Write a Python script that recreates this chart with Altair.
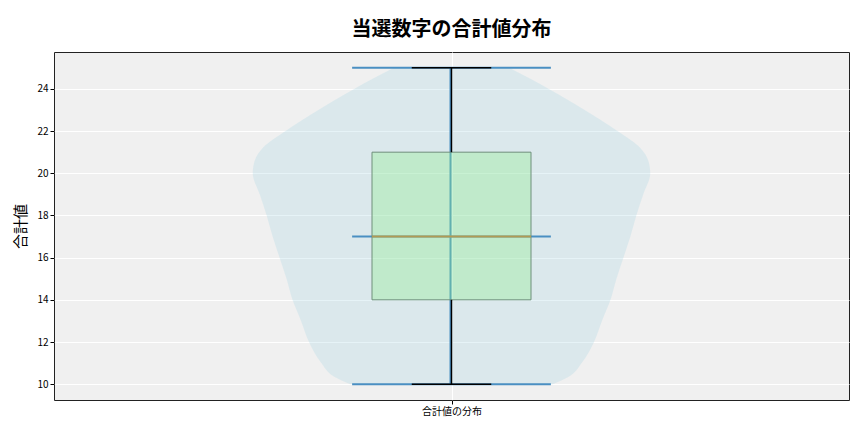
import altair as alt
import pandas as pd

# ---- text ----
title_text = "当選数字の合計値分布"
y_title = "合計値"
x_label = "合計値の分布"

# ---- violin outline (value, relative density) ----
violin_y = [10, 10.35, 11, 12, 13, 14, 15, 16, 17, 18, 19, 20, 20.6, 21.2, 22, 23, 24, 25]
violin_w = [0.51, 0.59, 0.655, 0.717, 0.757, 0.80, 0.83, 0.865, 0.90, 0.93, 0.965, 1.0, 0.99,
            0.95, 0.835, 0.67, 0.49, 0.29]

# ---- box statistics ----
stat_min = 10
stat_q1 = 14
stat_median = 17
stat_q3 = 21
stat_max = 25

y_ticks = [10, 12, 14, 16, 18, 20, 22, 24]

position = 1.0
violin_half = 0.25
box_half = 0.1
cap_half = 0.05
ext_half = 0.125

FONT = "Noto Sans CJK JP"

violin_df = pd.DataFrame({
    "y": violin_y,
    "x": [position - violin_half * w for w in violin_w],
    "x2": [position + violin_half * w for w in violin_w],
})

box_df = pd.DataFrame({"x": [position - box_half], "x2": [position + box_half],
                       "y": [stat_q1], "y2": [stat_q3]})

ext_df = pd.DataFrame({"x": [position - ext_half] * 3, "x2": [position + ext_half] * 3,
                       "y": [stat_min, stat_median, stat_max]})
cbar_df = pd.DataFrame({"x": [position], "y": [stat_min], "y2": [stat_max]})
whisk_df = pd.DataFrame({"x": [position, position], "y": [stat_min, stat_q3], "y2": [stat_q1, stat_max]})
cap_df = pd.DataFrame({"x": [position - cap_half] * 2, "x2": [position + cap_half] * 2,
                       "y": [stat_min, stat_max]})
med_df = pd.DataFrame({"x": [position - box_half], "x2": [position + box_half], "y": [stat_median]})

x_axis = alt.Axis(values=[position], labelExpr=f"'{x_label}'", title=None, grid=True,
                  gridColor="white", gridWidth=1, domain=False, tickColor="black", tickSize=4,
                  labelFont=FONT, labelFontSize=10, labelColor="black", labelPadding=2)
y_axis = alt.Axis(values=y_ticks, title=y_title, grid=True, gridColor="white", gridWidth=1,
                  domain=False, tickColor="black", tickSize=4, labelFont=FONT, labelFontSize=10,
                  labelColor="black", labelPadding=2, titleFont=FONT, titleFontSize=15,
                  titleFontWeight="normal", titleColor="black", titlePadding=8)
x_scale = alt.Scale(domain=[0.5, 1.5], nice=False, zero=False)
y_scale = alt.Scale(domain=[9.25, 25.75], nice=False, zero=False)


def X(f="x"):
    return alt.X(f"{f}:Q", scale=x_scale, axis=x_axis)


def Y(f="y"):
    return alt.Y(f"{f}:Q", scale=y_scale, axis=y_axis)


violin = alt.Chart(violin_df).mark_area(orient="horizontal", interpolate="monotone",
                                        color="#add8e6", opacity=0.3).encode(
    y=Y(), x=X(), x2="x2:Q")

ext = alt.Chart(ext_df).mark_rule(color="#4a8fc2", strokeWidth=2).encode(y=Y(), x=X(), x2="x2:Q")
cbar = alt.Chart(cbar_df).mark_rule(color="#4a8fc2", strokeWidth=2, xOffset=-1).encode(
    x=X(), y=Y(), y2="y2:Q")
box = alt.Chart(box_df).mark_rect(fill="#90ee90", fillOpacity=0.35, stroke="#6e8f7a",
                                  strokeWidth=1).encode(x=X(), x2="x2:Q", y=Y(), y2="y2:Q")
whisk = alt.Chart(whisk_df).mark_rule(color="black", strokeWidth=1.5).encode(x=X(), y=Y(), y2="y2:Q")
caps = alt.Chart(cap_df).mark_rule(color="black", strokeWidth=1.5).encode(y=Y(), x=X(), x2="x2:Q")
med = alt.Chart(med_df).mark_rule(color="#b09a55", strokeWidth=2).encode(y=Y(), x=X(), x2="x2:Q")

chart = alt.layer(violin, ext, cbar, box, whisk, caps, med).properties(
    width=795, height=348,
    padding={"left": 46, "top": 44, "right": 7, "bottom": 24},
    autosize=alt.AutoSizeParams(type="none"),
    title=alt.TitleParams(title_text, font=FONT, fontSize=20, fontWeight="bold",
                          color="black", anchor="middle", offset=12),
).configure_view(fill="#f0f0f0", stroke="#222222", strokeWidth=1)

chart.save("out.html", embed_options={"renderer": "svg", "actions": False})
